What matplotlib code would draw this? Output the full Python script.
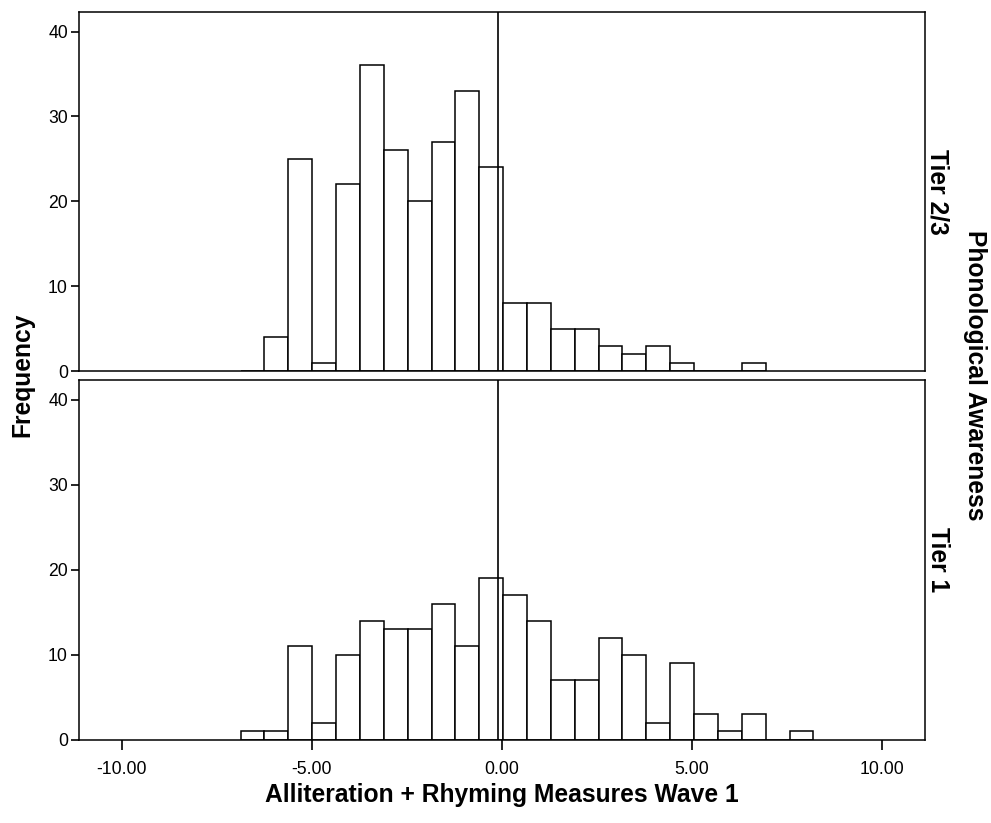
import numpy as np
import matplotlib
matplotlib.use('Agg')
import matplotlib.pyplot as plt

plt.rcParams['font.family'] = ['Liberation Sans', 'DejaVu Sans']

# 히스토그램 구간 정의 (공통)
bin_start = -6.878
bin_width = 0.628

# 빈도 (구간별)
tier23_counts = [0, 4, 25, 1, 22, 36, 26, 20, 27, 33, 24, 8, 8, 5, 5, 3, 2, 3, 1, 0, 0, 1]
tier1_counts = [1, 1, 11, 2, 10, 14, 13, 13, 16, 11, 19, 17, 14, 7, 7, 12, 10, 2, 9, 3, 1, 3, 0, 1]
panel_labels = ['Tier 2/3', 'Tier 1']
ref_line = -0.1

x_ticks = [-10, -5, 0, 5, 10]
y_ticks = [0, 10, 20, 30, 40]

W, H = 991, 823
fig = plt.figure(figsize=(W / 100, H / 100), dpi=100)

left, right = 79 / W, 925 / W
ax_top = fig.add_axes([left, 1 - 371 / H, right - left, (371 - 12) / H])
ax_bot = fig.add_axes([left, 1 - 740 / H, right - left, (740 - 380) / H])

for ax, counts, label in [(ax_top, tier23_counts, panel_labels[0]),
                          (ax_bot, tier1_counts, panel_labels[1])]:
    edges = bin_start + bin_width * np.arange(len(counts))
    ax.bar(edges, counts, width=bin_width, align='edge', color='white',
           edgecolor='black', linewidth=1.1)
    ax.axvline(ref_line, color='black', linewidth=1.2)
    ax.set_xlim(-11.13, 11.13)
    ax.set_ylim(0, 42.3)
    ax.set_yticks(y_ticks)
    ax.set_yticklabels([str(v) for v in y_ticks])
    ax.tick_params(axis='y', direction='out', length=6, width=1.2, labelsize=12.7, pad=2)
    for sp in ax.spines.values():
        sp.set_linewidth(1.1)
    # 패널 이름 (오른쪽)
    bb = ax.get_position()
    fig.text(938 / W, (bb.y0 + bb.y1) / 2, label, rotation=270,
             ha='center', va='center', fontsize=17.7, fontweight='bold')

ax_top.set_xticks([])
ax_bot.set_xticks(x_ticks)
ax_bot.set_xticklabels(['%.2f' % v for v in x_ticks])
ax_bot.tick_params(axis='x', direction='out', length=7, width=1.2, labelsize=12.7, pad=8)

fig.text(502 / W, 1 - 795 / H, 'Alliteration + Rhyming Measures Wave 1',
         ha='center', va='center', fontsize=17.7, fontweight='bold')
fig.text(22 / W, 1 - 375 / H, 'Frequency', rotation=90,
         ha='center', va='center', fontsize=17.7, fontweight='bold')
fig.text(975 / W, 1 - 375 / H, 'Phonological Awareness', rotation=270,
         ha='center', va='center', fontsize=17.7, fontweight='bold')

plt.savefig('out.png', dpi=100)
